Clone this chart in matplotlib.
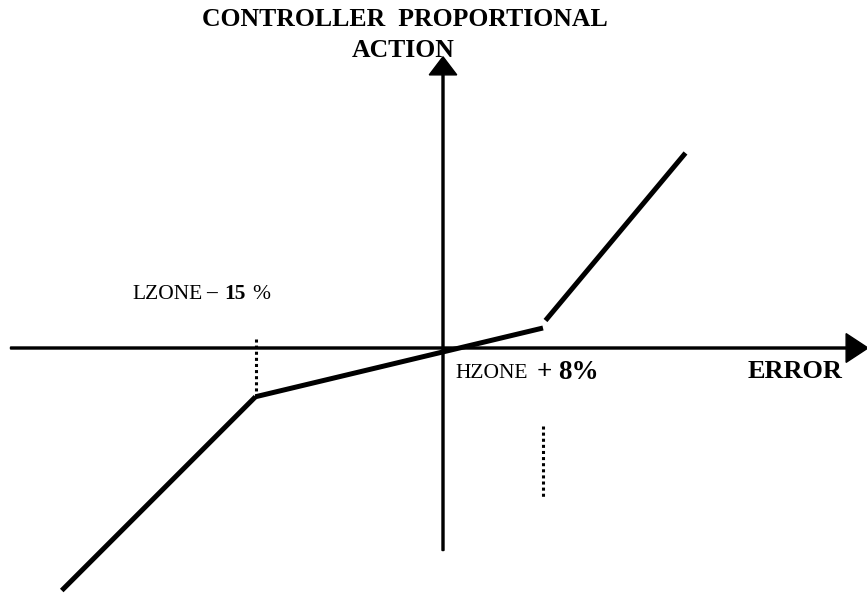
"""Piecewise proportional action of a controller with a low and a high dead-zone."""

import matplotlib.pyplot as plt

plt.rcParams['font.family'] = ['Liberation Serif', 'DejaVu Serif']

# zone limits, % of error
lzone = -15.0
hzone = 8.0

# controller output along each branch (error %, action)
error_low = [-30.5, lzone]
action_low = [-19.4, -3.9]
error_mid = [lzone, hzone]
action_mid = [-3.9, 1.6]
error_high = [8.2, 19.4]
action_high = [2.2, 15.6]

# extent of the dotted zone markers
lzone_mark = [0.7, -3.9]
hzone_mark = [-6.2, -11.9]

SCALE = 12.5  # px per unit at dpi 100
W, H = 867, 594
OX, OY = 443, 348


def main():
    fig = plt.figure(figsize=(W / 100, H / 100), dpi=100)
    ax = fig.add_axes([0, 0, 1, 1])
    ax.set_xlim(-OX / SCALE, (W - OX) / SCALE)
    ax.set_ylim(-(H - OY) / SCALE, OY / SCALE)
    ax.axis('off')

    # axes with arrow heads
    ax.arrow(-34.6, 0, 68.6, 0, width=0.16, head_width=2.3, head_length=1.75,
             length_includes_head=True, fc='k', ec='k', clip_on=False)
    ax.arrow(0, -16.2, 0, 39.5, width=0.16, head_width=2.2, head_length=1.45,
             length_includes_head=True, fc='k', ec='k', clip_on=False)

    # the three branches
    for xs, ys in [(error_low, action_low), (error_mid, action_mid),
                   (error_high, action_high)]:
        ax.plot(xs, ys, color='k', lw=3.6, solid_capstyle='butt')

    # zone markers
    ax.plot([lzone, lzone], lzone_mark, color='k', lw=2.2, ls=(0, (1, 1)))
    ax.plot([hzone, hzone], hzone_mark, color='k', lw=2.2, ls=(0, (1, 1)))

    # labels
    ax.text(-3.04, 25.76, 'CONTROLLER  PROPORTIONAL', ha='center', va='baseline',
            fontsize=18.5, fontweight='bold')
    ax.text(-3.16, 23.26, 'ACTION', ha='center', va='baseline',
            fontsize=18.5, fontweight='bold', zorder=0)

    ax.text(-24.88, 3.9, 'LZONE', ha='left', va='baseline', fontsize=15.5)
    ax.text(-18.96, 3.9, '\u2013', ha='left', va='baseline', fontsize=15.5, fontweight='bold')
    ax.text(-17.52, 3.9, '15', ha='left', va='baseline', fontsize=15.5, fontweight='bold')
    ax.text(-15.28, 3.9, '%', ha='left', va='baseline', fontsize=15.5)

    ax.text(0.96, -2.43, 'HZONE', ha='left', va='baseline', fontsize=15.5)
    ax.text(7.52, -2.48, '+', ha='left', va='baseline', fontsize=19.5, fontweight='bold')
    ax.text(9.2, -2.48, '8%', ha='left', va='baseline', fontsize=19.5, fontweight='bold')
    ax.text(24.4, -2.43, 'ERROR', ha='left', va='baseline', fontsize=19, fontweight='bold')

    fig.savefig('out.png', dpi=100)


if __name__ == '__main__':
    main()
